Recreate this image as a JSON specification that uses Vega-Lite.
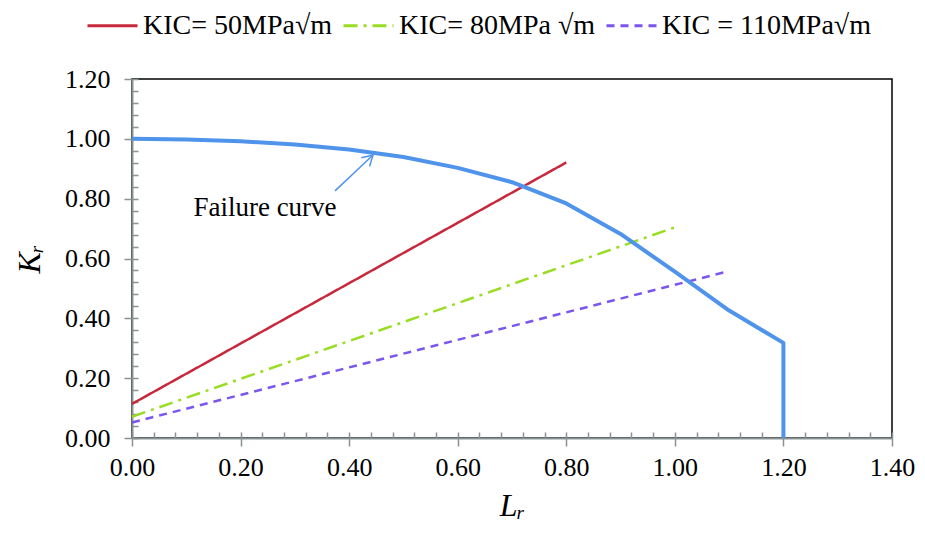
{
  "$schema": "https://vega.github.io/schema/vega-lite/v6.json",
  "width": 760,
  "height": 359,
  "autosize": "none",
  "padding": {"left": 132, "top": 79, "right": 33, "bottom": 102},
  "background": "white",
  "config": {
    "view": {"stroke": "black", "strokeWidth": 1.5},
    "font": "Liberation Serif",
    "axis": {"grid": false, "domainColor": "#8a9393", "tickColor": "#8a9393", "domainWidth": 2, "tickWidth": 1.5, "labelFlush": false,
             "labelFont": "Liberation Serif", "labelFontSize": 26, "labelColor": "black",
             "titleFont": "Liberation Serif", "titleFontSize": 32, "titleFontStyle": "italic", "titleFontWeight": "normal", "titleColor": "black"}
  },
  "datasets": {
    "failure": [
      {"Lr": 0.0, "Kr": 1.0, "i": 0},
      {"Lr": 0.1, "Kr": 0.998, "i": 1},
      {"Lr": 0.2, "Kr": 0.992, "i": 2},
      {"Lr": 0.3, "Kr": 0.981, "i": 3},
      {"Lr": 0.4, "Kr": 0.964, "i": 4},
      {"Lr": 0.5, "Kr": 0.939, "i": 5},
      {"Lr": 0.6, "Kr": 0.903, "i": 6},
      {"Lr": 0.7, "Kr": 0.855, "i": 7},
      {"Lr": 0.8, "Kr": 0.784, "i": 8},
      {"Lr": 0.9, "Kr": 0.682, "i": 9},
      {"Lr": 1.0, "Kr": 0.556, "i": 10},
      {"Lr": 1.1, "Kr": 0.426, "i": 11},
      {"Lr": 1.2, "Kr": 0.318, "i": 12},
      {"Lr": 1.2, "Kr": 0.0, "i": 13}
    ],
    "kic": [
      {"series": "KIC= 50MPa√m", "Lr": 0.0, "Kr": 0.114},
      {"series": "KIC= 50MPa√m", "Lr": 0.8, "Kr": 0.921},
      {"series": "KIC= 80MPa √m", "Lr": 0.0, "Kr": 0.071},
      {"series": "KIC= 80MPa √m", "Lr": 1.0, "Kr": 0.704},
      {"series": "KIC = 110MPa√m", "Lr": 0.0, "Kr": 0.052},
      {"series": "KIC = 110MPa√m", "Lr": 1.1, "Kr": 0.558}
    ],
    "arrow": [
      {"seg": "shaft", "Lr": 0.374, "Kr": 0.826},
      {"seg": "shaft", "Lr": 0.444, "Kr": 0.946},
      {"seg": "w1", "Lr": 0.4225, "Kr": 0.937},
      {"seg": "w1", "Lr": 0.444, "Kr": 0.946},
      {"seg": "w2", "Lr": 0.4376, "Kr": 0.908},
      {"seg": "w2", "Lr": 0.444, "Kr": 0.946}
    ],
    "label": [{"Lr": 0.245, "Kr": 0.769, "text": "Failure  curve"}]
  },
  "resolve": {"axis": {"x": "independent", "y": "independent"}},
  "layer": [
    {
      "data": {"name": "kic"},
      "mark": {"type": "line", "strokeWidth": 2.5},
      "encoding": {
        "x": {"field": "Lr", "type": "quantitative", "scale": {"domain": [0, 1.4], "nice": false},
              "axis": {"orient": "bottom", "values": [0,0.04,0.08,0.12,0.16,0.2,0.24,0.28,0.32,0.36,0.4,0.44,0.48,0.52,0.56,0.6,0.64,0.68,0.72,0.76,0.8,0.84,0.88,0.92,0.96,1.0,1.04,1.08,1.12,1.16,1.2,1.24,1.28,1.32,1.36,1.4],
                       "labels": false, "domain": false, "tickSize": -6, "title": null}},
        "y": {"field": "Kr", "type": "quantitative", "scale": {"domain": [0, 1.2], "nice": false},
              "axis": {"orient": "left", "values": [0,0.04,0.08,0.12,0.16,0.2,0.24,0.28,0.32,0.36,0.4,0.44,0.48,0.52,0.56,0.6,0.64,0.68,0.72,0.76,0.8,0.84,0.88,0.92,0.96,1.0,1.04,1.08,1.12,1.16,1.2],
                       "labels": false, "domain": false, "tickSize": -6, "title": null}},
        "color": {"field": "series", "type": "nominal",
                  "scale": {"domain": ["KIC= 50MPa√m", "KIC= 80MPa √m", "KIC = 110MPa√m"], "range": ["#c8283c", "#99dd22", "#7a55ee"]},
                  "legend": {"orient": "none", "legendX": -46, "legendY": -80, "direction": "horizontal", "title": null,
                             "labelFont": "Liberation Serif", "labelFontSize": 28, "labelColor": "black", "labelLimit": 0,
                             "symbolType": "stroke", "symbolSize": 2500, "symbolStrokeWidth": 3, "columnPadding": 4, "labelOffset": 4}},
        "strokeDash": {"field": "series", "type": "nominal",
                       "scale": {"domain": ["KIC= 50MPa√m", "KIC= 80MPa √m", "KIC = 110MPa√m"], "range": [[1, 0], [14, 6, 3, 6], [8, 6]]},
                       "legend": null}
      }
    },
    {
      "data": {"name": "failure"},
      "mark": {"type": "line", "color": "#4f94ea", "strokeWidth": 4, "strokeJoin": "round"},
      "encoding": {
        "x": {"field": "Lr", "type": "quantitative", "scale": {"domain": [0, 1.4], "nice": false},
              "axis": {"orient": "bottom", "values": [0, 0.2, 0.4, 0.6, 0.8, 1.0, 1.2, 1.4], "format": ".2f", "tickSize": 8, "labelPadding": 8, "title": "Lᵣ", "titlePadding": 10}},
        "y": {"field": "Kr", "type": "quantitative", "scale": {"domain": [0, 1.2], "nice": false},
              "axis": {"orient": "left", "values": [0, 0.2, 0.4, 0.6, 0.8, 1.0, 1.2], "format": ".2f", "tickSize": 8, "labelPadding": 14, "title": "Kᵣ", "titlePadding": 18}},
        "order": {"field": "i", "type": "quantitative"}
      }
    },
    {
      "data": {"name": "arrow"},
      "mark": {"type": "line", "color": "#4f94ea", "strokeWidth": 1.5},
      "encoding": {
        "x": {"field": "Lr", "type": "quantitative", "axis": null},
        "y": {"field": "Kr", "type": "quantitative", "axis": null},
        "detail": {"field": "seg", "type": "nominal"}
      }
    },
    {
      "data": {"name": "label"},
      "mark": {"type": "text", "font": "Liberation Serif", "fontSize": 27, "color": "black", "align": "center", "baseline": "middle"},
      "encoding": {
        "x": {"field": "Lr", "type": "quantitative", "axis": null},
        "y": {"field": "Kr", "type": "quantitative", "axis": null},
        "text": {"field": "text"}
      }
    }
  ]
}
